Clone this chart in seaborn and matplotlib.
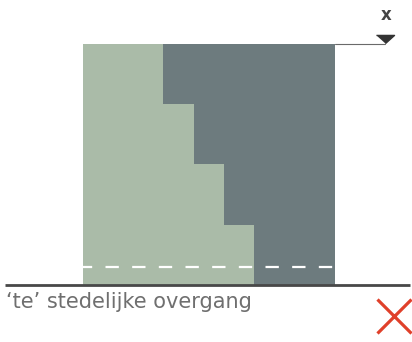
import matplotlib
matplotlib.use('Agg')
import matplotlib.pyplot as plt
import seaborn as sns
import pandas as pd

# bands of the section, top to bottom
bands = ['1', '2', '3', '4']
green_part = [80, 111, 141, 171]
full_width = [252, 252, 252, 252]
caption = '‘te’ stedelijke overgang'
axis_label = 'x'

green = '#aabba8'
dark = '#6d7b7e'

sns.set_style('white')
plt.rcParams['font.family'] = ['DejaVu Sans']
plt.rcParams['lines.scale_dashes'] = False

df = pd.DataFrame({'band': bands, 'green': green_part, 'total': full_width})

fig = plt.figure(figsize=(4.12, 3.42), dpi=100)
ax = fig.add_axes([0, 0, 1, 1])

sns.barplot(data=df, x='total', y='band', color=dark, width=1,
            linewidth=0, saturation=1, ax=ax)
sns.barplot(data=df, x='green', y='band', color=green, width=1,
            linewidth=0, saturation=1, ax=ax)

top = -0.5
bottom = len(bands) - 0.5
right = full_width[0]

# road marking and ground line
ax.plot([0, right], [bottom - 0.3, bottom - 0.3], color='white', lw=1.6,
        linestyle=(3, (9.6, 9.6)))
ax.plot([-78, 327], [bottom, bottom], color='#484848', lw=2, solid_capstyle='butt')

# x arrow at the top
ax.plot([right, right + 50], [top, top], color='#6a6a6a', lw=0.8)
ax.plot([right + 50], [top - 0.075], marker=[(-1, 0.45), (1, 0.45), (0, -0.45)],
        markersize=13, color='#333333', linestyle='none')
ax.text(right + 51, top - 0.48, axis_label, fontsize=12, fontweight='bold',
        color='#444444', ha='center', va='center')

ax.text(-77, bottom + 0.11, caption, fontsize=15, color='#6f6f6f',
        ha='left', va='top')
ax.plot([311], [bottom + 0.515], marker='x', markersize=25, mew=2.3,
        color='#e0402a', linestyle='none')

ax.set_xlim(-83, 329)
ax.set_ylim(4.446, -1.23)
ax.axis('off')

fig.savefig('out.png', dpi=100)
